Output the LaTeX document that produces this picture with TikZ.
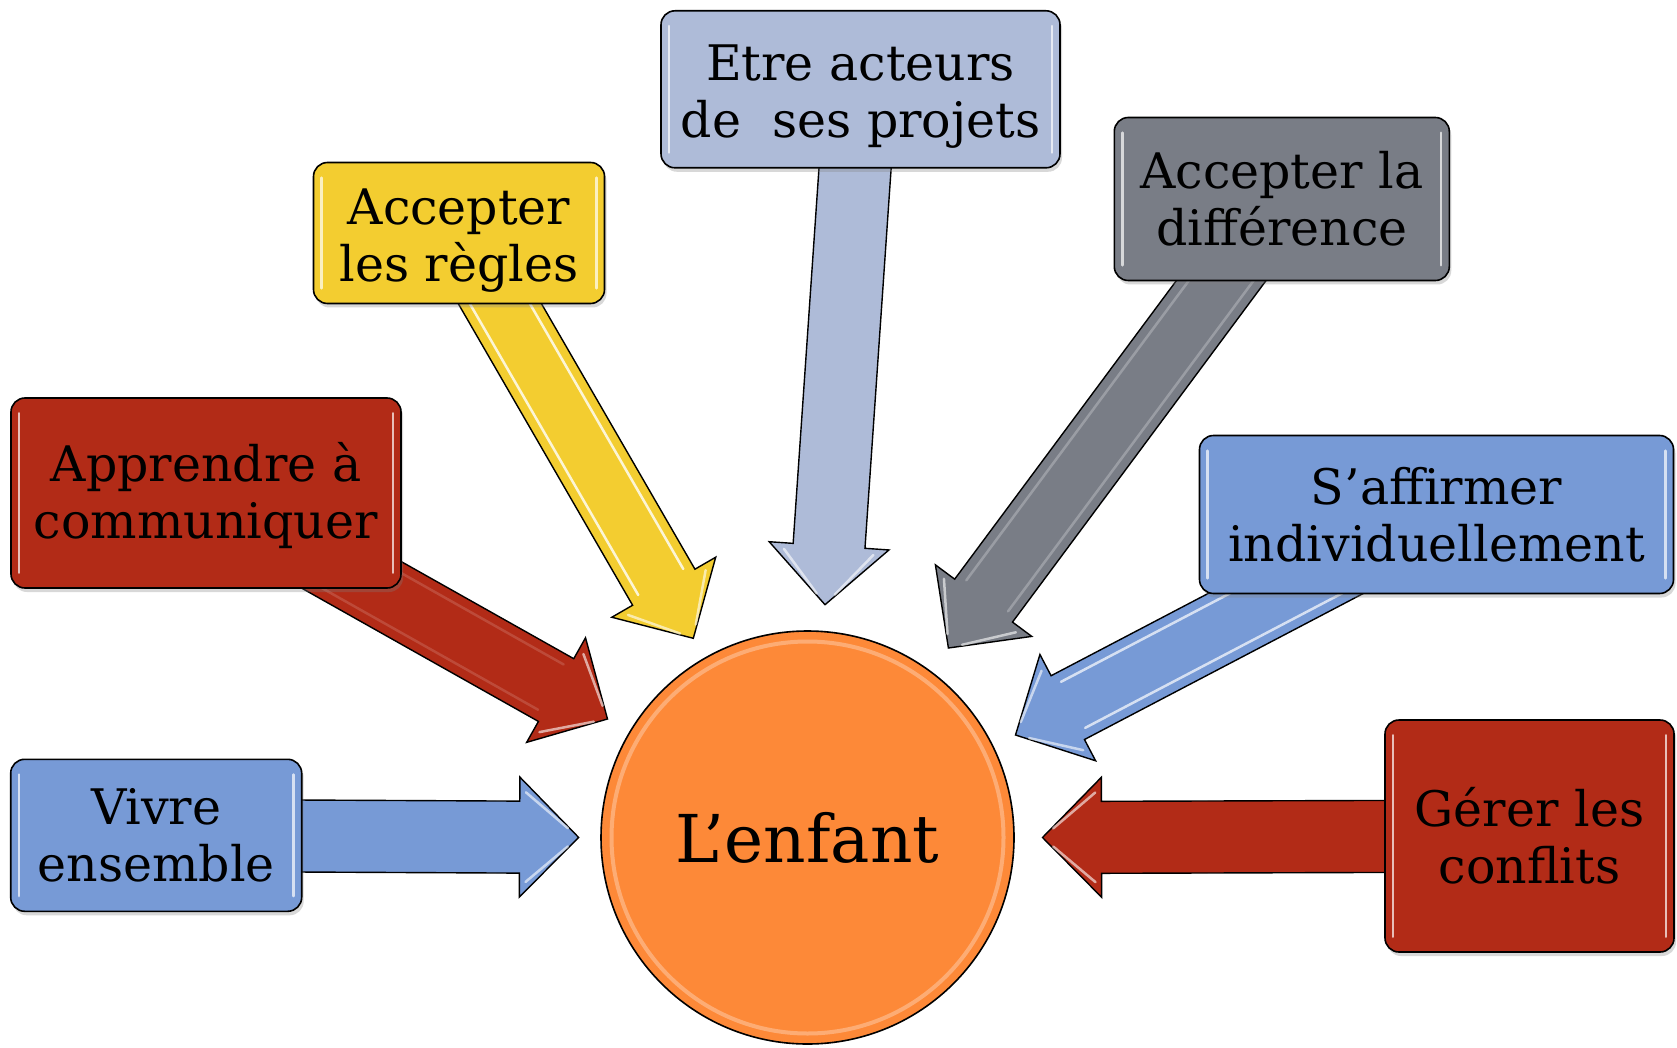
\documentclass[tikz,border=0pt]{standalone}
\usepackage{fontspec}
\setmainfont{DejaVu Serif}
\usetikzlibrary{calc,shadows}
\definecolor{cblue}{RGB}{119,154,214}
\definecolor{cred}{RGB}{178,43,23}
\definecolor{cyellow}{RGB}{243,205,48}
\definecolor{clav}{RGB}{174,187,216}
\definecolor{cgrey}{RGB}{121,125,134}
\definecolor{corange}{RGB}{253,137,56}
\pgfdeclarelayer{bg}
\pgfsetlayers{bg,main}
\newcommand\blockarr[3]{%
  \coordinate (#1h) at ($(#2)!59pt!(#1.center)$);
  \draw[barrow, fill=#3] ($(#1.center)!36pt!90:(#2)$) -- ($(#1h)!36pt!90:(#2)$) -- ($(#1h)!60pt!90:(#2)$) -- (#2) -- ($(#1h)!60pt!-90:(#2)$) -- ($(#1h)!36pt!-90:(#2)$) -- ($(#1.center)!36pt!-90:(#2)$) -- cycle;}
\newcommand\arrgloss[3]{%
  \draw[agloss, opacity=#3, shorten >=6pt] ($(#1.center)!26pt!90:(#2)$) -- ($(#1h)!26pt!90:(#2)$);
  \draw[agloss, opacity=#3, shorten >=6pt] ($(#1.center)!26pt!-90:(#2)$) -- ($(#1h)!26pt!-90:(#2)$);}
\newcommand\headgloss[2]{%
  \draw[agloss, opacity=0.6, shorten <=8pt, shorten >=14pt] ($(#1h)!50pt!90:(#2)$) -- (#2);
  \draw[agloss, opacity=0.6, shorten <=8pt, shorten >=14pt] ($(#1h)!50pt!-90:(#2)$) -- (#2);}
\newcommand\glossy[1]{%
  \draw[gloss] ([xshift=9pt,yshift=-16pt]#1.north west) -- ([xshift=9pt,yshift=16pt]#1.south west);
  \draw[gloss] ([xshift=-9pt,yshift=-16pt]#1.north east) -- ([xshift=-9pt,yshift=16pt]#1.south east);}
\begin{document}
\begin{tikzpicture}[x=1pt,y=-1pt,
  box/.style={draw=black, line width=1.6pt, rounded corners=14pt, align=center,
    font=\fontsize{49}{57}\selectfont, inner sep=0pt,
    drop shadow={shadow xshift=2pt,shadow yshift=-4pt,opacity=0.3}},
  barrow/.style={draw=black, line width=1.4pt, line join=miter},
  gloss/.style={white, line width=2.5pt, line cap=round, opacity=0.7},
  agloss/.style={white, line width=2.5pt, line cap=round}]
\useasboundingbox (0,0) rectangle (1677,1048);

\node[box, fill=cblue, minimum width=291pt, minimum height=152pt] (vivre) at (156.2,835.3) {Vivre\\ensemble};
\node[box, fill=cred, minimum width=390pt, minimum height=190pt] (appr) at (206,493) {\rule{0pt}{44pt}Apprendre à\\communiquer};
\node[box, fill=cyellow, minimum width=291pt, minimum height=141pt] (regles) at (459,233) {\rule{0pt}{51pt}Accepter\\les règles};
\node[box, fill=clav, minimum width=399pt, minimum height=157pt] (etre) at (860.5,89.3) {\rule{0pt}{50pt}Etre acteurs\\de\ \ ses projets};
\node[box, fill=cgrey, minimum width=335pt, minimum height=163pt] (diff) at (1281.8,199) {Accepter la\\différence};
\node[box, fill=cblue, minimum width=474pt, minimum height=158pt] (affirm) at (1436.5,514.5) {S’affirmer\\individuellement};
\node[box, fill=cred, minimum width=289pt, minimum height=232pt] (gerer) at (1529.5,836) {Gérer les\\conflits};

\foreach \n in {vivre,appr,regles,etre,diff,affirm,gerer}{\glossy{\n}}

\node[circle, draw=black, line width=1.6pt, fill=corange, minimum size=413pt, inner sep=0pt,
  font=\fontsize{66}{70}\selectfont] (enfant) at (807.5,837.5) {L’enfant};
\draw[white, opacity=0.3, line width=4pt] (enfant.center) circle (196pt);

\coordinate (t1) at (578.6,837.4);
\coordinate (t2) at (607.5,719);
\coordinate (t3) at (693.3,638.3);
\coordinate (t4) at (825,604.7);
\coordinate (t5) at (948.4,648);
\coordinate (t6) at (1015.5,735);
\coordinate (t7) at (1042.5,837.5);

\begin{pgfonlayer}{bg}
\fill[white] (0,0) rectangle (1677,1048);
\blockarr{vivre}{t1}{cblue}
\blockarr{appr}{t2}{cred}
\blockarr{regles}{t3}{cyellow}
\blockarr{etre}{t4}{clav}
\blockarr{diff}{t5}{cgrey}
\blockarr{affirm}{t6}{cblue}
\blockarr{gerer}{t7}{cred}
\arrgloss{regles}{t3}{0.8}
\arrgloss{affirm}{t6}{0.7}
\arrgloss{diff}{t5}{0.25}
\arrgloss{appr}{t2}{0.15}
\headgloss{vivre}{t1}
\headgloss{appr}{t2}
\headgloss{regles}{t3}
\headgloss{etre}{t4}
\headgloss{diff}{t5}
\headgloss{affirm}{t6}
\headgloss{gerer}{t7}
\end{pgfonlayer}
\end{tikzpicture}
\end{document}
